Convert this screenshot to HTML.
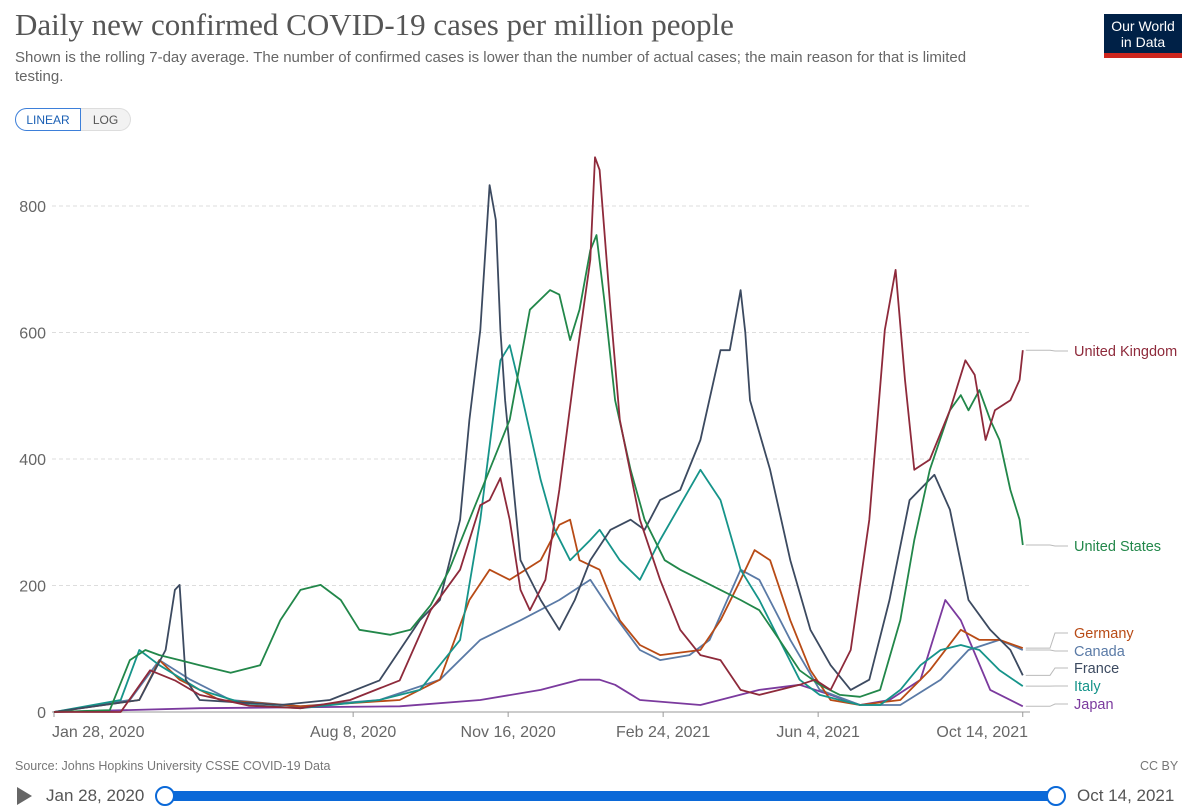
<!DOCTYPE html>
<html><head><meta charset="utf-8"><style>
body{margin:0;width:1200px;height:810px;background:#fff;font-family:"Liberation Sans",sans-serif;overflow:hidden;position:relative}
.abs{position:absolute}
</style></head><body>
<div class="abs" style="left:15px;top:7px;font-family:'Liberation Serif',serif;font-size:31px;color:#555">Daily new confirmed COVID-19 cases per million people</div>
<div class="abs" style="left:15px;top:48px;width:1000px;font-size:15px;line-height:19px;color:#666">Shown is the rolling 7-day average. The number of confirmed cases is lower than the number of actual cases; the main reason for that is limited testing.</div>
<div class="abs" style="left:1104px;top:14px;width:78px;height:44px;background:#002147;color:#fff;font-size:14px;line-height:16px;text-align:center;padding-top:4px;box-sizing:border-box;border-bottom:5px solid #ce261e">Our World<br>in Data</div>
<div class="abs" style="left:15px;top:108px;width:66px;height:23px;border:1px solid #3d7fd9;border-radius:12px 0 0 12px;color:#1a5fb4;font-size:12px;line-height:23px;text-align:center;box-sizing:border-box;">LINEAR</div>
<div class="abs" style="left:81px;top:108px;width:50px;height:23px;border:1px solid #ddd;border-left:none;border-radius:0 12px 12px 0;background:#f2f2f2;color:#555;font-size:12px;line-height:23px;text-align:center;box-sizing:border-box;">LOG</div>
<svg class="abs" style="left:0;top:0" width="1200" height="810" id="chart"></svg>
<div class="abs" style="left:15px;top:759px;font-size:12.5px;color:#777">Source: Johns Hopkins University CSSE COVID-19 Data</div>
<div class="abs" style="left:1140px;top:759px;font-size:12.5px;color:#777">CC BY</div>
<div class="abs" style="left:17px;top:787px;width:0;height:0;border-left:15px solid #666;border-top:9px solid transparent;border-bottom:9px solid transparent"></div>
<div class="abs" style="left:46px;top:786px;font-size:17px;color:#555">Jan 28, 2020</div>
<div class="abs" style="left:163px;top:791px;width:892px;height:10px;background:#0b69d8;border-radius:5px"></div>
<div class="abs" style="left:155px;top:786px;width:16px;height:16px;border:2px solid #0b69d8;background:#fff;border-radius:50%"></div>
<div class="abs" style="left:1046px;top:786px;width:16px;height:16px;border:2px solid #0b69d8;background:#fff;border-radius:50%"></div>
<div class="abs" style="left:1077px;top:786px;font-size:17px;color:#555">Oct 14, 2021</div>
<script>
const yTicks=[0,200,400,600,800];
const xTickDays=[0,193,293,393,493,625];
const xTickLabels=["Jan 28, 2020","Aug 8, 2020","Nov 16, 2020","Feb 24, 2021","Jun 4, 2021","Oct 14, 2021"];
const seriesNames=["Japan","Canada","Germany","Italy","France","United States","United Kingdom"];
const seriesColors=["#7b3a9e","#5a7aa6","#b84b16","#16948a","#3c4a60","#22874a","#8e2a3b"];
const labelY=[704,651,633,686,668,546,351];
const ukDays=[0,43,62,78,94,126,159,191,223,243,262,275,281,288,294,301,307,317,326,336,346,349,352,359,365,378,391,404,417,430,443,455,468,481,491,501,514,526,536,543,549,555,565,578,588,594,601,607,617,623,625];
const ukVals=[0,0,66,50,27,10,6,19,50,161,225,327,335,370,304,193,161,209,351,540,715,877,857,636,462,304,209,130,90,82,35,27,35,43,51,35,98,304,604,699,525,383,399,477,556,533,430,477,493,525,572];
const usDays=[0,36,49,59,68,81,94,114,133,146,159,172,185,197,217,230,243,255,268,281,294,307,320,326,333,339,346,350,355,362,372,381,394,404,417,430,443,455,468,481,494,507,520,533,546,555,565,578,585,590,597,604,610,617,623,625];
const usVals=[0,3,82,98,90,82,74,62,74,145,193,201,177,130,122,130,169,225,304,383,462,636,667,660,588,636,730,754,651,493,383,304,240,225,209,193,177,161,114,66,43,27,24,35,145,272,383,477,501,477,509,462,430,351,304,264];
const itDays=[0,43,55,68,94,126,159,210,236,262,275,288,294,301,314,323,333,346,352,365,378,391,417,430,443,455,468,481,494,520,533,546,559,572,585,597,610,625];
const itVals=[0,19,98,74,35,11,6,19,35,114,304,556,580,509,367,288,240,272,288,240,209,272,383,335,225,177,114,51,27,11,11,35,74,98,106,98,66,41];
const frDays=[0,55,72,78,81,85,94,146,178,210,236,249,262,268,275,281,285,288,291,301,314,326,336,346,359,372,381,391,404,417,430,436,443,446,449,462,475,488,501,514,526,539,552,568,578,590,604,617,625];
const frVals=[0,19,98,193,201,51,19,11,19,50,145,177,304,462,604,833,778,604,493,240,177,130,177,240,288,304,288,335,351,430,572,572,667,600,493,383,240,130,74,35,51,177,335,375,320,177,130,98,58];
const deDays=[0,55,68,81,107,159,223,249,268,281,294,314,326,333,339,352,365,378,391,417,430,443,452,462,475,488,501,520,546,565,585,597,610,625];
const deVals=[0,19,82,51,19,9,19,51,177,225,209,240,296,304,240,225,145,106,90,98,145,209,256,240,145,66,19,11,19,66,130,114,114,101];
const caDays=[0,49,68,88,114,159,210,249,275,301,326,346,359,378,391,410,423,443,455,475,494,520,546,572,590,610,625];
const caVals=[0,19,82,51,19,9,19,51,114,145,177,209,161,98,82,90,114,225,209,114,35,11,11,51,98,114,98];
const jpDays=[0,94,223,275,314,339,352,362,378,417,455,481,501,520,539,559,575,585,604,625];
const jpVals=[0,6,9,19,35,51,51,43,19,11,35,43,27,11,19,51,177,145,35,9];
const allDays=[jpDays,caDays,deDays,itDays,frDays,usDays,ukDays];
const allVals=[jpVals,caVals,deVals,itVals,frVals,usVals,ukVals];

const X0=54,PXD=1.55,Y0=712,PXV=126.5/200;
function xs(d){return X0+d*PXD;}
function ys(v){return Y0-v*PXV;}
const svg=document.getElementById('chart');
const NS='http://www.w3.org/2000/svg';
function mk(t,a){const e=document.createElementNS(NS,t);for(const k in a)e.setAttribute(k,a[k]);svg.appendChild(e);return e;}
yTicks.forEach(v=>{
  if(v>0){const l=mk('line',{x1:52,x2:1030,y1:ys(v),y2:ys(v),stroke:'#ddd','stroke-dasharray':'4,3'});
  
  }
  const t=mk('text',{x:46,y:ys(v)+6,'text-anchor':'end','font-size':16,fill:'#666'});
  t.textContent=v;
  
  
});
const ax=mk('line',{x1:52,x2:1030,y1:Y0,y2:Y0,stroke:'#999'});


xTickDays.forEach((d,i)=>{
  const tk=mk('line',{x1:xs(d),x2:xs(d),y1:Y0,y2:Y0+5,stroke:'#999'});
  
  
  const anchor=i==0?'start':(i==xTickDays.length-1?'end':'middle');
  const tx=i==xTickDays.length-1?1028:(i==0?52:xs(d));
  const t=mk('text',{x:tx,y:737,'text-anchor':anchor,'font-size':16,fill:'#666'});
  t.textContent=xTickLabels[i];
  
  
});
allDays.forEach((days,i)=>{
  const vals=allVals[i];
  let d='';
  days.forEach((dd,j)=>{d+=(j?'L':'M')+xs(dd).toFixed(1)+','+ys(vals[j]).toFixed(1);});
  const p=mk('path',{d:d,fill:'none',stroke:seriesColors[i],'stroke-width':1.8,'stroke-linejoin':'round'});
  
  
  const ex=xs(days[days.length-1]),ey=ys(vals[vals.length-1]);
  const c=mk('path',{d:`M${ex+3},${ey}L1050,${ey}L1055,${labelY[i]}L1068,${labelY[i]}`,fill:'none',stroke:'#bbb','stroke-width':1});
  
  
  const t=mk('text',{x:1074,y:labelY[i]+5,'font-size':14.5,fill:seriesColors[i]});
  t.textContent=seriesNames[i];
  
  
});
</script>
</body></html>
